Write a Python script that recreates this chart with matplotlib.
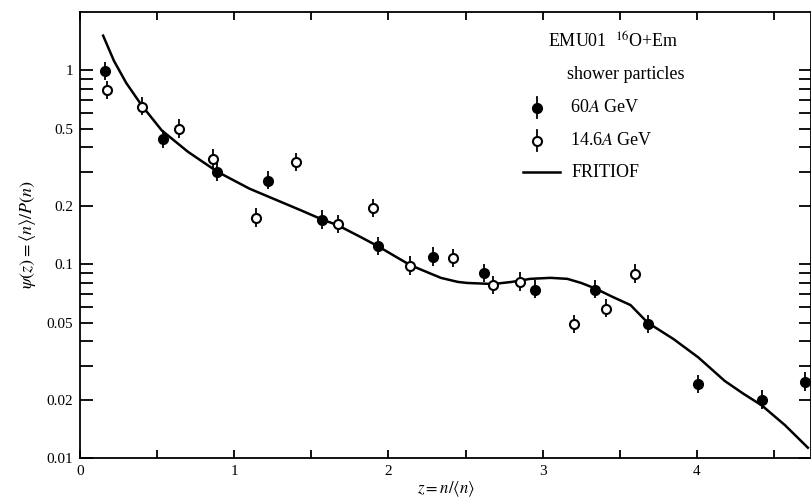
import matplotlib
matplotlib.use("Agg")
import matplotlib.pyplot as plt
import matplotlib.ticker as ticker
from matplotlib.lines import Line2D

plt.rcParams["font.family"] = ["Liberation Serif", "DejaVu Serif"]
plt.rcParams["mathtext.fontset"] = "stix"

# 60A GeV (filled)
z_60 = [0.16, 0.54, 0.89, 1.22, 1.57, 1.93, 2.29, 2.62, 2.95, 3.34, 3.68, 4.01, 4.42, 4.70]
psi_60 = [0.99, 0.44, 0.30, 0.27, 0.169, 0.124, 0.109, 0.090, 0.074, 0.074, 0.049, 0.024, 0.020, 0.0247]

# 14.6A GeV (open)
z_146 = [0.175, 0.40, 0.64, 0.86, 1.14, 1.40, 1.67, 1.90, 2.14, 2.42, 2.68, 2.85, 3.20, 3.41, 3.60]
psi_146 = [0.79, 0.65, 0.50, 0.35, 0.173, 0.336, 0.161, 0.194, 0.098, 0.107, 0.078, 0.081, 0.049, 0.059, 0.089]

# FRITIOF curve
z_fr = [0.15, 0.22, 0.30, 0.40, 0.53, 0.70, 0.89, 1.10, 1.30, 1.43, 1.57, 1.67, 1.82, 1.93,
        2.05, 2.14, 2.25, 2.34, 2.45, 2.51, 2.68, 2.80, 2.92, 3.05, 3.16, 3.25, 3.34, 3.45,
        3.57, 3.68, 3.85, 4.01, 4.18, 4.30, 4.42, 4.57, 4.72]
psi_fr = [1.51, 1.12, 0.86, 0.66, 0.49, 0.38, 0.30, 0.245, 0.21, 0.19, 0.17, 0.159, 0.138, 0.124,
          0.109, 0.099, 0.091, 0.085, 0.081, 0.080, 0.079, 0.081, 0.084, 0.085, 0.084, 0.080, 0.075, 0.068,
          0.0615, 0.050, 0.041, 0.033, 0.025, 0.0215, 0.0187, 0.0148, 0.0113]

REL_ERR = 0.10

fig = plt.figure(figsize=(8.12, 5.01), dpi=100)
ax = fig.add_axes([80 / 812, 1 - 458 / 501, 731 / 812, 446 / 501])

ax.plot(z_fr, psi_fr, color="black", linewidth=1.8, zorder=2)


def draw_points(z, psi, filled):
    lo = [p * REL_ERR for p in psi]
    hi = [p * REL_ERR * 1.2 for p in psi]
    ax.errorbar(z, psi, yerr=[lo, hi], fmt="o", markersize=6.5,
                markerfacecolor="black" if filled else "white",
                markeredgecolor="black", markeredgewidth=1.5,
                ecolor="black", elinewidth=1.3, capsize=0, zorder=3)


draw_points(z_146, psi_146, False)
draw_points(z_60, psi_60, True)

ax.set_yscale("log")
ax.set_xlim(0, 4.74)
ax.set_ylim(0.01, 2.0)

ax.yaxis.set_major_locator(ticker.FixedLocator([0.01, 0.02, 0.05, 0.1, 0.2, 0.5, 1]))
ax.yaxis.set_major_formatter(ticker.FixedFormatter(["0.01", "0.02", "0.05", "0.1", "0.2", "0.5", "1"]))
ax.yaxis.set_minor_locator(ticker.FixedLocator([0.03, 0.04, 0.06, 0.07, 0.08, 0.09,
                                                0.3, 0.4, 0.6, 0.7, 0.8, 0.9]))
ax.yaxis.set_minor_formatter(ticker.NullFormatter())
ax.xaxis.set_major_locator(ticker.FixedLocator([0, 1, 2, 3, 4]))
ax.xaxis.set_minor_locator(ticker.FixedLocator([0.5, 1.5, 2.5, 3.5, 4.5]))

ax.tick_params(which="both", direction="in", top=True, right=True, width=1.3,
               labelsize=11, colors="black")
ax.tick_params(axis="y", which="both", length=9, pad=5)
ax.tick_params(axis="x", which="both", length=6, pad=5)
for s in ax.spines.values():
    s.set_linewidth(1.3)

ax.set_xlabel(r"$z=n/\langle n\rangle$", fontsize=12, labelpad=1)
ax.set_ylabel(r"$\psi(z)=\langle n\rangle/P(n)$", fontsize=13, labelpad=6)

# legend block
tr = ax.transAxes
ax.text(0.640, 0.933, r"EMU01  $^{16}$O+Em", transform=tr, fontsize=13, va="center", ha="left")
ax.text(0.666, 0.859, "shower particles", transform=tr, fontsize=13, va="center", ha="left")
for yy, filled, label in [(0.785, True, r"60$\mathit{A}$ GeV"), (0.711, False, r"14.6$\mathit{A}$ GeV")]:
    ax.add_line(Line2D([0.625, 0.625], [yy - 0.022, yy + 0.024], transform=tr,
                       color="black", linewidth=1.3))
    ax.add_line(Line2D([0.625], [yy], transform=tr, marker="o", markersize=6.5,
                       markerfacecolor="black" if filled else "white",
                       markeredgecolor="black", markeredgewidth=1.5, linestyle="none"))
    ax.text(0.670, yy, label, transform=tr, fontsize=13, va="center", ha="left")
ax.add_line(Line2D([0.606, 0.657], [0.641, 0.641], transform=tr, color="black", linewidth=1.8))
ax.text(0.673, 0.641, "FRITIOF", transform=tr, fontsize=13, va="center", ha="left")

fig.savefig("out.png", dpi=100, facecolor="white")
